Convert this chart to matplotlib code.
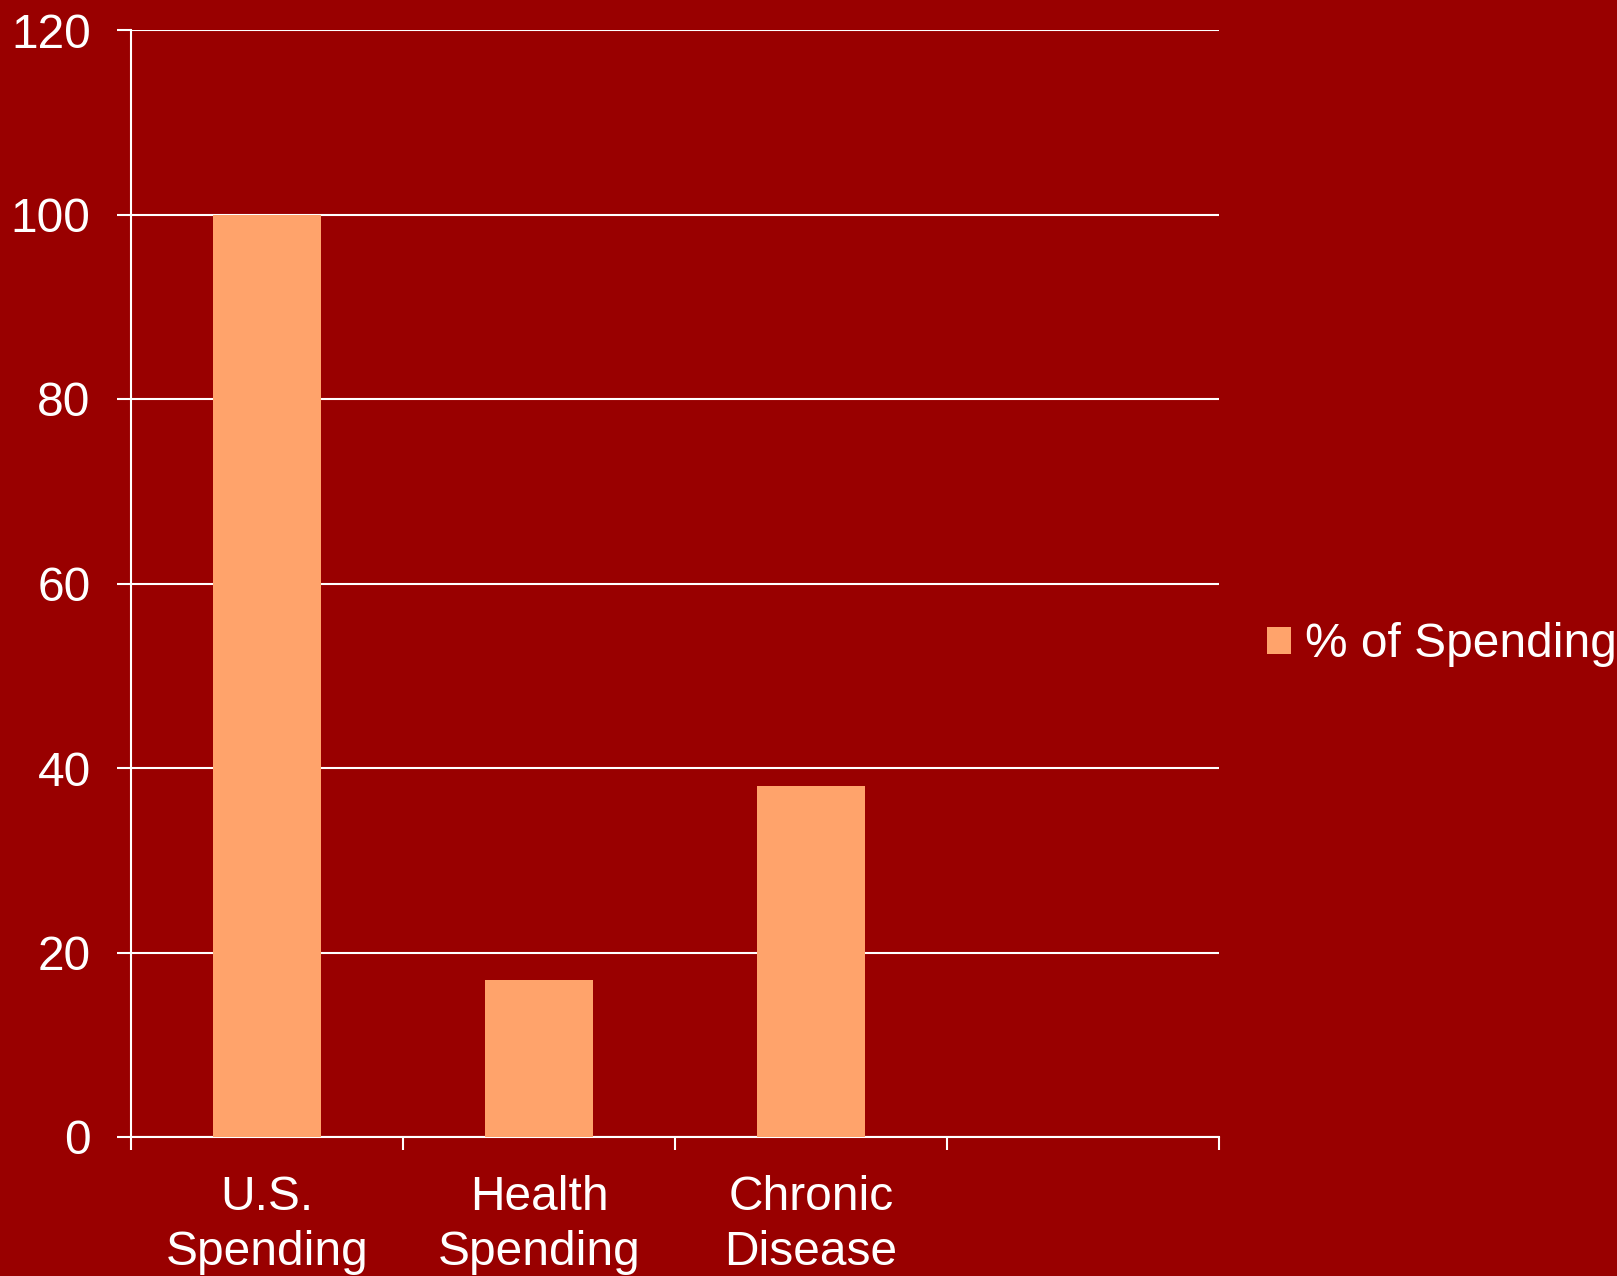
import matplotlib
matplotlib.use("Agg")
import matplotlib.pyplot as plt
from matplotlib.patches import Patch

categories = ["U.S.\nSpending", "Health\nSpending", "Chronic\nDisease", ""]
values = [100, 17, 38, None]
series_name = "% of Spending"
yticks = [0, 20, 40, 60, 80, 100, 120]

bg = "#990000"
bar_color = "#FFA36B"

plt.rcParams["font.family"] = ["Liberation Sans", "DejaVu Sans"]

fig = plt.figure(figsize=(16.17, 12.76), dpi=100, facecolor=bg)
ax = fig.add_axes([131 / 1617, 1 - 1137 / 1276, (1219 - 131) / 1617, (1137 - 30) / 1276])
ax.set_facecolor(bg)

xs = [i + 0.5 for i in range(len(categories))]
vals = [v if v is not None else 0 for v in values]
ax.bar(xs, vals, width=0.4, color=bar_color, zorder=3)

ax.set_xlim(0, len(categories))
ax.set_ylim(0, 120)
ax.set_yticks(yticks)
ax.set_yticklabels([str(t) for t in yticks])
ax.yaxis.grid(True, color="white", linewidth=1.5, zorder=1)
ax.set_axisbelow(True)

ax.set_xticks(range(len(categories) + 1))
ax.set_xticklabels([])
ax.set_xticks(xs, minor=True)
ax.set_xticklabels(categories, minor=True, linespacing=1.3)
ax.tick_params(axis="x", which="major", direction="out", length=9.5, width=1.5, color="white")
ax.tick_params(axis="x", which="minor", length=0, pad=27, labelsize=34.5, labelcolor="white")
ax.tick_params(axis="y", direction="out", length=10, width=1.5, color="white",
               pad=19, labelsize=34.5, labelcolor="white")

for s in ["top", "right"]:
    ax.spines[s].set_visible(False)
for s in ["left", "bottom"]:
    ax.spines[s].set_color("white")
    ax.spines[s].set_linewidth(1.5)

handles = [Patch(facecolor=bar_color, edgecolor="none", label=series_name)]
leg = fig.legend(handles=handles, loc="center left", bbox_to_anchor=(1267 / 1617, 1 - 645 / 1276),
                 frameon=False, fontsize=34.5, handlelength=0.5, handleheight=0.5,
                 handletextpad=0.3, borderpad=0, borderaxespad=0)
for t in leg.get_texts():
    t.set_color("white")

fig.savefig("out.png", dpi=100, facecolor=bg)
